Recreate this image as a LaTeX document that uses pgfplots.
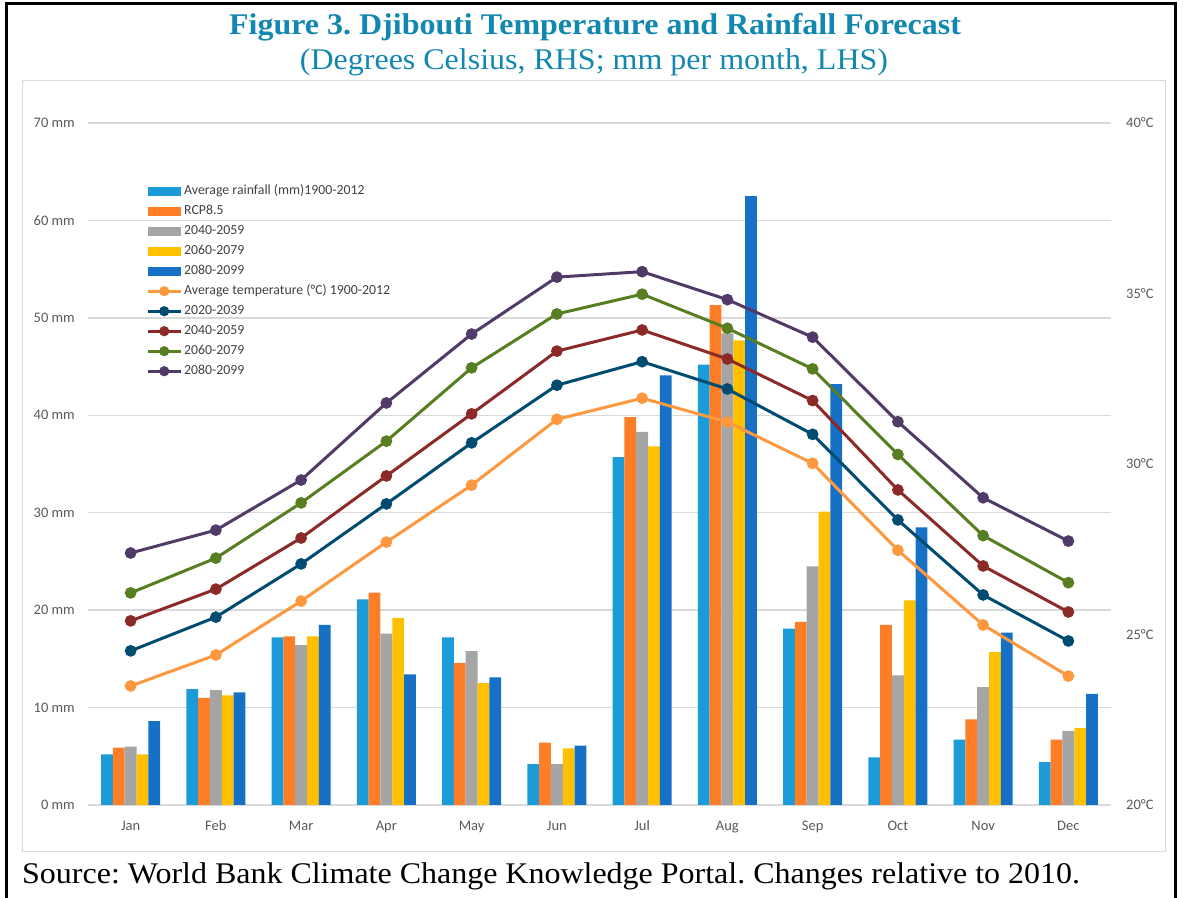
\documentclass[border=0pt]{standalone}
\usepackage{graphicx}
\usepackage{pgfplots}
\pgfplotsset{compat=1.18}
\usepackage{fontspec}
\setmainfont{Liberation Serif}
\newfontfamily\calfont{Carlito}
\frenchspacing
\definecolor{titleblue}{RGB}{18,135,176}
\definecolor{gridgrey}{RGB}{217,217,217}
\definecolor{ticktext}{RGB}{89,89,89}
\definecolor{legtext}{RGB}{64,64,64}
\definecolor{rainA}{RGB}{27,155,215}
\definecolor{rainB}{RGB}{253,126,39}
\definecolor{rainC}{RGB}{165,165,165}
\definecolor{rainD}{RGB}{255,192,0}
\definecolor{rainE}{RGB}{21,112,198}
\definecolor{tA}{RGB}{253,152,62}
\definecolor{tB}{RGB}{0,76,112}
\definecolor{tC}{RGB}{139,42,38}
\definecolor{tD}{RGB}{88,126,34}
\definecolor{tE}{RGB}{82,58,104}

\pgfplotstableread{
x avg rcp p4059 p6079 p8099
0 5.2 5.9 6.0 5.2 8.6
1 11.9 11.0 11.8 11.25 11.55
2 17.2 17.3 16.4 17.3 18.5
3 21.1 21.8 17.6 19.2 13.4
4 17.2 14.6 15.8 12.5 13.1
5 4.2 6.4 4.2 5.8 6.1
6 35.7 39.8 38.3 36.8 44.1
7 45.2 51.3 48.4 47.7 62.5
8 18.1 18.8 24.5 30.1 43.2
9 4.9 18.5 13.3 21.0 28.5
10 6.7 8.8 12.1 15.7 17.7
11 4.4 6.7 7.6 7.9 11.4
}\raintable

\pgfplotstableread{
x avg t2039 t4059 t6079 t8099
0 23.49 24.52 25.40 26.22 27.39
1 24.40 25.51 26.33 27.24 28.06
2 25.98 27.07 27.83 28.86 29.53
3 27.71 28.83 29.65 30.67 31.79
4 29.38 30.62 31.47 32.82 33.81
5 31.31 32.31 33.31 34.40 35.48
6 31.93 33.00 33.93 34.98 35.64
7 31.23 32.20 33.08 33.98 34.82
8 30.02 30.87 31.86 32.79 33.72
9 27.47 28.36 29.24 30.28 31.24
10 25.28 26.16 27.01 27.90 29.01
11 23.78 24.81 25.66 26.52 27.74
}\temptable

\pgfplotsset{
  baseaxis/.style={
    at={(88pt,92pt)}, anchor=south west,
    scale only axis, width=1023pt, height=682pt,
    xmin=-0.5, xmax=11.5,
    axis line style={draw=none},
    major tick length=0pt, tick style={draw=none},
    /pgf/number format/assume math mode=true,
    ticklabel style={font=\calfont\fontsize{14.5}{17}\selectfont, text=ticktext, inner sep=0pt},
  },
  barleg/.style={legend image code/.code={\fill[##1, draw=none] (0pt,-4.5pt) rectangle (33pt,4.5pt);}},
  lineleg/.style={legend image code/.code={\draw[mark repeat=2,mark phase=2,##1, mark size=3.5pt] plot coordinates {(0pt,0pt) (16.5pt,0pt) (33pt,0pt)};}},
  tline/.style={line width=3pt, mark=*, mark size=4.3pt, lineleg},
}

\begin{document}
\begin{tikzpicture}[x=1pt,y=1pt]
\useasboundingbox (0,0) rectangle (1183,897);
% outer frame
\draw[line width=3pt] (6.5,-20) -- (6.5,893.5) -- (1175.5,893.5) -- (1175.5,-20);
% chart area box
\draw[gridgrey, line width=1pt] (22,46) rectangle (1165,816);
% titles
\node[font=\fontsize{30}{34}\selectfont\bfseries, text=titleblue, anchor=base, inner sep=0pt] at (595,862) {\scalebox{1.066}[1]{Figure 3. Djibouti Temperature and Rainfall Forecast}};
\node[font=\fontsize{30}{34}\selectfont, text=titleblue, anchor=base, inner sep=0pt] at (594,827) {\scalebox{1.066}[1]{(Degrees Celsius, RHS; mm per month, LHS)}};
\node[font=\fontsize{30}{34}\selectfont, anchor=base west, inner sep=0pt] at (22,14) {\scalebox{1.066}[1]{Source: World Bank Climate Change Knowledge Portal. Changes relative to 2010.}};

\begin{axis}[baseaxis,
  ymin=0, ymax=70,
  ybar=0pt, bar width=11.8pt,
  ymajorgrids, grid style={gridgrey, line width=1.3pt},
  xtick={0,...,11},
  xticklabels={Jan,Feb,Mar,Apr,May,Jun,Jul,Aug,Sep,Oct,Nov,Dec},
  xticklabel style={anchor=base, yshift=-25pt},
  ytick={0,10,...,70},
  yticklabel={\pgfmathprintnumber{\tick} mm},
  yticklabel style={anchor=east, xshift=-13pt},
]
\addplot[fill=rainA, draw=none] table[x=x,y=avg] {\raintable};
\addplot[fill=rainB, draw=none] table[x=x,y=rcp] {\raintable};
\addplot[fill=rainC, draw=none] table[x=x,y=p4059] {\raintable};
\addplot[fill=rainD, draw=none] table[x=x,y=p6079] {\raintable};
\addplot[fill=rainE, draw=none] table[x=x,y=p8099] {\raintable};
\end{axis}

\begin{axis}[baseaxis,
  ymin=20, ymax=40,
  axis y line*=right, axis x line=none,
  ytick={20,25,...,40},
  yticklabel={\pgfmathprintnumber{\tick}°C},
  yticklabel style={anchor=west, xshift=15pt},
  legend cell align=left,
  legend style={at={(axis description cs:0.0538,0.912)}, anchor=north west,
    draw=none, fill=none, font=\calfont\fontsize{13.8}{15}\selectfont, text=legtext,
    row sep=8pt, column sep=2pt,
    nodes={inner sep=0pt, text height=9pt, text depth=3pt}},
]
\addlegendimage{barleg, fill=rainA}
\addlegendentry{Average rainfall (mm)1900-2012}
\addlegendimage{barleg, fill=rainB}
\addlegendentry{RCP8.5}
\addlegendimage{barleg, fill=rainC}
\addlegendentry{2040-2059}
\addlegendimage{barleg, fill=rainD}
\addlegendentry{2060-2079}
\addlegendimage{barleg, fill=rainE}
\addlegendentry{2080-2099}
\addplot[tline, color=tA] table[x=x,y=avg] {\temptable};
\addlegendentry{Average temperature (°C) 1900-2012}
\addplot[tline, color=tB] table[x=x,y=t2039] {\temptable};
\addlegendentry{2020-2039}
\addplot[tline, color=tC] table[x=x,y=t4059] {\temptable};
\addlegendentry{2040-2059}
\addplot[tline, color=tD] table[x=x,y=t6079] {\temptable};
\addlegendentry{2060-2079}
\addplot[tline, color=tE] table[x=x,y=t8099] {\temptable};
\addlegendentry{2080-2099}
\end{axis}
\end{tikzpicture}
\end{document}
